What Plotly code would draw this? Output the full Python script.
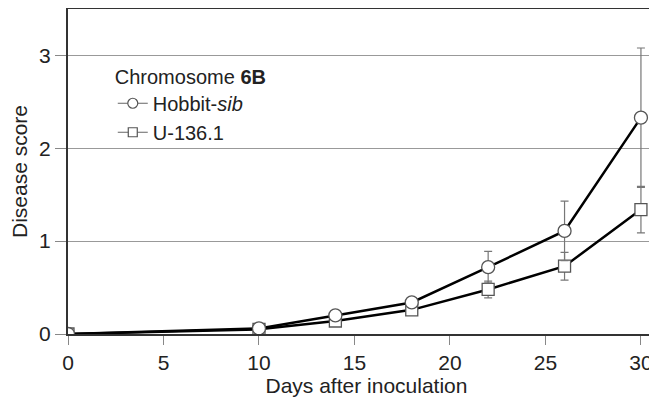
import plotly.graph_objects as go

days = [0, 10, 14, 18, 22, 26, 30]
hobbit = [0.0, 0.06, 0.20, 0.34, 0.72, 1.11, 2.33]
hobbit_err = [0.0, 0.0, 0.0, 0.0, 0.17, 0.32, 0.75]
u136 = [0.0, 0.05, 0.14, 0.26, 0.48, 0.73, 1.34]
u136_err = [0.0, 0.0, 0.0, 0.0, 0.09, 0.15, 0.25]

font = "Liberation Sans, Arial, Helvetica, sans-serif"

fig = go.Figure()
fig.add_trace(go.Scatter(
    x=days, y=u136, mode="lines+markers", name="U-136.1", showlegend=False,
    line=dict(color="black", width=2.5),
    marker=dict(symbol="square", size=12, color="white", line=dict(color="#555", width=1.3)),
    error_y=dict(type="data", array=u136_err, color="#777", thickness=1.2, width=4),
))
fig.add_trace(go.Scatter(
    x=days, y=hobbit, mode="lines+markers", name="Hobbit-<i>sib</i>", showlegend=False,
    line=dict(color="black", width=2.5),
    marker=dict(symbol="circle", size=13, color="white", line=dict(color="#555", width=1.3)),
    error_y=dict(type="data", array=hobbit_err, color="#777", thickness=1.2, width=4),
))
# legend entries (thin gray line symbols as in the reference key)
fig.add_trace(go.Scatter(
    x=[None], y=[None], mode="lines+markers", name="Hobbit-<i>sib</i>",
    line=dict(color="#666", width=1),
    marker=dict(symbol="circle", size=10, color="white", line=dict(color="#555", width=1.2)),
))
fig.add_trace(go.Scatter(
    x=[None], y=[None], mode="lines+markers", name="U-136.1",
    line=dict(color="#666", width=1),
    marker=dict(symbol="square", size=9, color="white", line=dict(color="#555", width=1.2)),
))

fig.update_layout(
    width=657, height=399,
    margin=dict(l=60, r=0, t=1, b=73),
    paper_bgcolor="white", plot_bgcolor="white",
    font=dict(family=font, size=20, color="#222"),
    showlegend=True,
    legend=dict(
        x=0.075, y=0.85, xanchor="left", yanchor="top",
        title=dict(text="Chromosome <b>6B</b>", font=dict(size=20)),
        font=dict(size=20), bgcolor="rgba(0,0,0,0)",
        tracegroupgap=0,
    ),
    xaxis=dict(
        range=[0, 31.26], tickvals=[0, 5, 10, 15, 20, 25, 30],
        ticks="outside", ticklen=9, tickcolor="#888", tickwidth=1.2,
        showline=True, linecolor="#333", linewidth=2, mirror=True,
        showgrid=False, zeroline=False, automargin=False,
        title=dict(text="Days after inoculation", font=dict(size=21), standoff=4),
        tickfont=dict(size=21),
    ),
    yaxis=dict(
        range=[0, 3.5], tickvals=[0, 1, 2, 3],
        ticks="outside", ticklen=11, tickcolor="#888", tickwidth=1.2,
        showline=True, linecolor="#333", linewidth=2,
        showgrid=True, gridcolor="#999", gridwidth=1.2, zeroline=False,
        automargin=False,
        title=dict(text="Disease score", font=dict(size=21), standoff=8),
        tickfont=dict(size=21),
    ),
)

fig.write_html("out.html")
